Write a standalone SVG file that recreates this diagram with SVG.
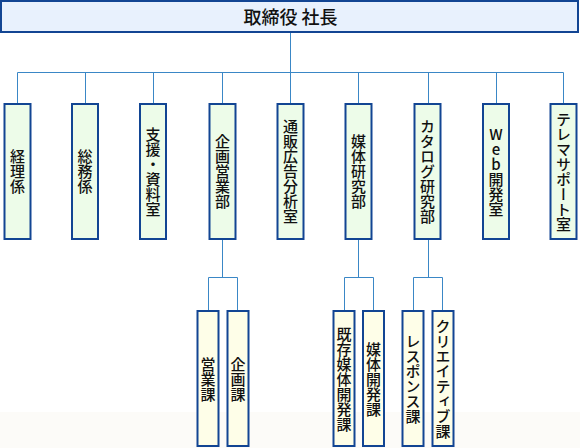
<svg xmlns="http://www.w3.org/2000/svg" width="580" height="448" viewBox="0 0 580 448">
<style>
.top{fill:#e8f1fd;stroke:#124593;stroke-width:2}
.dept{fill:#edfce9;stroke:#124593;stroke-width:2}
.sec{fill:#fefee8;stroke:#124593;stroke-width:2}
.ln{stroke:#3a87c6;stroke-width:1;fill:none}
text{font-family:"Noto Sans CJK JP","Noto Sans",sans-serif;fill:#111111;font-weight:500}
.v{font-size:15px;writing-mode:vertical-rl;text-anchor:middle}
.vu{text-orientation:upright}
</style>
<rect x="0" y="0" width="580" height="448" fill="#ffffff"/>
<rect x="0" y="412" width="580" height="36" fill="#fcfbf8"/>
<g id="connectors">
<path class="ln" d="M290.5 33V72.5M17.5 72.5H563.5M17.5 72.5V103M85.5 72.5V103M153.5 72.5V103M222.5 72.5V103M290.5 72.5V103M358.5 72.5V103M428.5 72.5V103M496.5 72.5V103M563.5 72.5V103"/>
<path class="ln" d="M222.5 239V277.5M208.5 277.5H237.5M208.5 277.5V310M237.5 277.5V310"/>
<path class="ln" d="M358.5 239V277.5M344.5 277.5H373.5M344.5 277.5V310M373.5 277.5V310"/>
<path class="ln" d="M428.5 239V277.5M413.5 277.5H442.5M413.5 277.5V310M442.5 277.5V310"/>
</g>
<g id="president"><rect class="top" x="1" y="1" width="577" height="31"/><text x="290.5" y="24" font-size="18" text-anchor="middle">取締役 社長</text></g>
<g id="keiri"><rect class="dept" x="4.5" y="104" width="26" height="135"/><text class="v" x="17.5" y="171.5">経理係</text></g>
<g id="somu"><rect class="dept" x="72" y="104" width="26" height="135"/><text class="v" x="85" y="171.5">総務係</text></g>
<g id="shien"><rect class="dept" x="140" y="104" width="26" height="135"/><text class="v" x="153" y="171.5">支援・資料室</text></g>
<g id="kikaku-eigyo"><rect class="dept" x="209.5" y="104" width="26" height="135"/><text class="v" x="222.5" y="171.5">企画営業部</text></g>
<g id="tsuhan"><rect class="dept" x="277.5" y="104" width="26" height="135"/><text class="v" x="290.5" y="171.5">通販広告分析室</text></g>
<g id="baitai"><rect class="dept" x="345.5" y="104" width="26" height="135"/><text class="v" x="358.5" y="171.5">媒体研究部</text></g>
<g id="catalog"><rect class="dept" x="414.5" y="104" width="26" height="135"/><text class="v" x="427.5" y="171.5">カタログ研究部</text></g>
<g id="web"><rect class="dept" x="483" y="104" width="26" height="135"/><text class="v vu" x="496" y="171.5">Web開発室</text></g>
<g id="telema"><rect class="dept" x="550.5" y="104" width="26" height="135"/><text class="v" x="563.5" y="171.5">テレマサポート室</text></g>
<g id="eigyo"><rect class="sec" x="197.5" y="311" width="21" height="135"/><text class="v" x="208" y="379">営業課</text></g>
<g id="kikaku"><rect class="sec" x="227.5" y="311" width="21" height="135"/><text class="v" x="238" y="379">企画課</text></g>
<g id="kison"><rect class="sec" x="333.5" y="311" width="21" height="135"/><text class="v" x="344" y="379">既存媒体開発課</text></g>
<g id="baitai-kaihatsu"><rect class="sec" x="363" y="311" width="21" height="135"/><text class="v" x="373.5" y="379">媒体開発課</text></g>
<g id="response"><rect class="sec" x="402.5" y="311" width="21" height="135"/><text class="v" x="413" y="379">レスポンス課</text></g>
<g id="creative"><rect class="sec" x="432.5" y="311" width="21" height="135"/><text class="v" x="443" y="379">クリエイティブ課</text></g>
</svg>
